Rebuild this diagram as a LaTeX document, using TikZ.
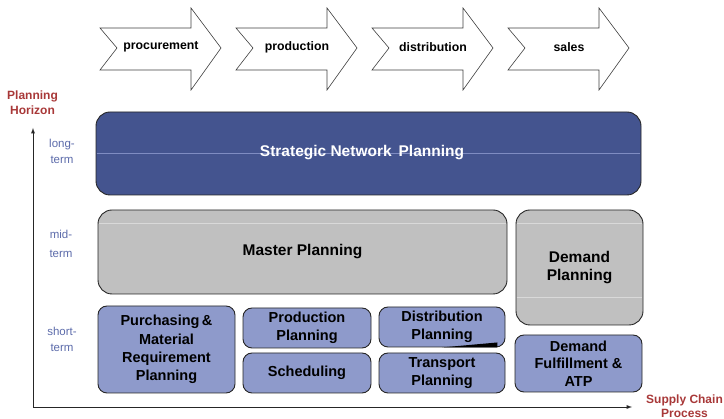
\documentclass[tikz,border=0pt]{standalone}
\usepackage{fontspec}
\setmainfont{Liberation Sans}
\usepackage{tikz}
\usetikzlibrary{calc,positioning,arrows}
\definecolor{darkblue}{HTML}{44548F}
\definecolor{lightblue}{HTML}{8E9ACB}
\definecolor{glossblue}{HTML}{7F8CC2}
\definecolor{boxgray}{HTML}{C0C0C0}
\definecolor{termblue}{HTML}{5C6BAA}
\definecolor{axisred}{HTML}{A83838}

\tikzset{
  process/.style={draw=black!75, fill=white, line width=0.6pt},
  processlabel/.style={font=\fontsize{12.3}{14}\selectfont\bfseries},
  bigbox/.style={draw=black!85, line width=0.9pt, rounded corners=14pt, align=center, inner sep=0pt, font=\fontsize{15.5}{18}\selectfont\bfseries},
  smallbox/.style={draw=black!85, line width=0.9pt, fill=lightblue, rounded corners=9pt, align=center, inner sep=0pt, font=\fontsize{14.5}{17.5}\selectfont\bfseries},
  termlabel/.style={text=termblue, align=center, font=\fontsize{11.5}{16}\selectfont},
  axislabel/.style={text=axisred, align=center, font=\fontsize{12}{14.5}\selectfont\bfseries},
  gloss/.style={line width=0.5pt}
}

\begin{document}
\begin{tikzpicture}[x=1pt,y=-1pt]
            \useasboundingbox (0,0) rectangle (724,419);
            % process chevrons
            \foreach \x/\name/\txt in {100/procure/procurement,236/produce/production,372/distrib/distribution,508/sell/sales}{
              \draw[process] (\x,28) -- ++(17,20) -- ++(-17,22) -- ++(91,0) -- ++(0,20) -- ++(30,-42) -- ++(-30,-40) -- ++(0,20) -- cycle;
              \node[processlabel] (\name) at (\x+61,47) {\txt};
            }
            % axes
            \coordinate (origin) at (33,407);
            \coordinate (ytip) at (33,128);
            \coordinate (xtip) at (632,407);
            \draw[-latex, line width=0.9pt, black!85] (origin) -- (ytip);
            \draw[-latex, line width=0.9pt, black!85] (origin) -- (xtip);
            \node[axislabel] (horizon) at (32.5,102.5) {Planning\\Horizon};
            \node[axislabel] (chain) at (684.5,406) {Supply Chain\\Process};
            \node[termlabel] (long) at (62,151) {long-\\term};
            \node[termlabel, font=\fontsize{11.5}{19}\selectfont] (mid) at (61,243.5) {mid-\\term};
            \node[termlabel] (short) at (62,339) {short-\\term};
            % planning modules
            \node[bigbox, fill=darkblue, minimum width=545pt, minimum height=83pt] (strategic) at (368.5,153.5) {};
            \draw[gloss, draw=glossblue] ($(strategic.west)+(1,0)$) -- ($(strategic.east)+(-1,0)$);
            \node[bigbox, draw=none, text=white] (strategictext) at (362,153) {Strategic Network\, Planning};
            \node[bigbox, fill=boxgray, minimum width=409pt, minimum height=84pt] (master) at (302.5,252) {Master Planning};
            \draw[gloss, draw=white!85!black] ($(master.north west)+(1,14)$) -- ($(master.north east)+(-1,14)$);
            \node[bigbox, fill=boxgray, minimum width=127pt, minimum height=115pt] (demand) at (579.5,267.5) {Demand\\Planning};
            \draw[gloss, draw=white!85!black] ($(demand.north west)+(1,14)$) -- ($(demand.north east)+(-1,14)$);
            \draw[gloss, draw=white!85!black] ($(demand.south west)+(1,-28)$) -- ($(demand.south east)+(-1,-28)$);
            \node[smallbox, minimum width=137pt, minimum height=87pt, font=\fontsize{14.5}{18.3}\selectfont\bfseries] (purchasing) at (166.5,349.5) {Purchasing\,\&\\Material\\Requirement\\Planning};
            \node[smallbox, minimum width=128pt, minimum height=40pt] (prodplan) at (307,328) {Production\\Planning};
            \node[smallbox, minimum width=128pt, minimum height=40pt] (scheduling) at (307,373) {Scheduling};
            \node[smallbox, minimum width=126pt, minimum height=40pt] (distplan) at (442,327) {Distribution\\Planning};
            \fill[black] (distplan.south) -- ($(distplan.south east)+(-8,-5)$) -- ($(distplan.south east)+(-8,0)$) -- cycle;
            \node[smallbox, minimum width=126pt, minimum height=40pt] (transport) at (442,373) {Transport\\Planning};
            \node[smallbox, minimum width=127pt, minimum height=57pt] (fulfil) at (578.5,363.5) {Demand\\Fulfillment \&\\ATP};
        \end{tikzpicture}
\end{document}
